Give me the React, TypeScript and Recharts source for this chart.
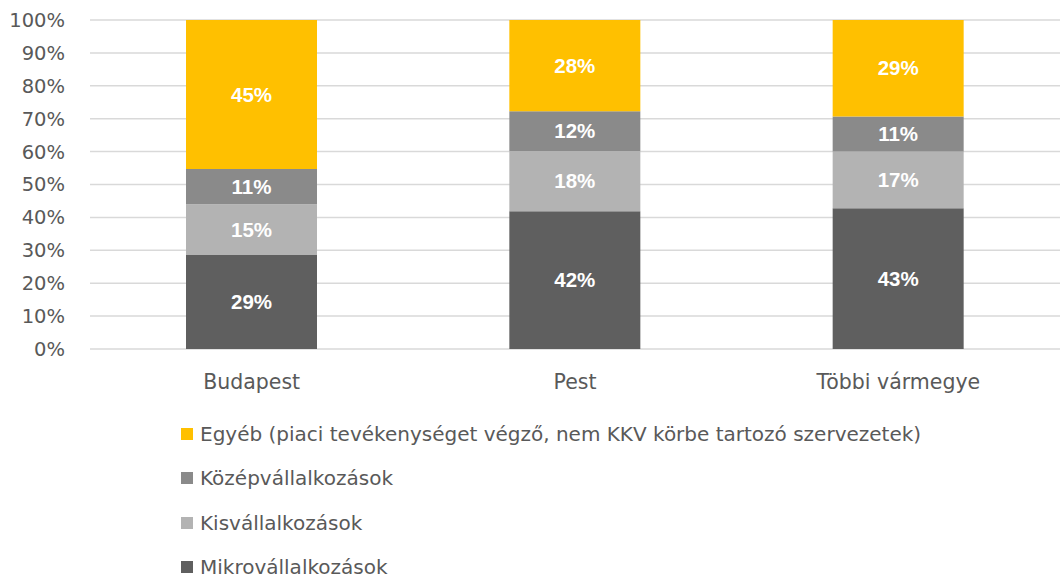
import React from "react";
import { BarChart, Bar, XAxis, YAxis, CartesianGrid, LabelList } from "recharts";

const categories = ["Budapest", "Pest", "Többi vármegye"];
const mikro = [28.6, 41.9, 42.8];
const kis = [15.4, 18.3, 17.2];
const kozep = [10.7, 12.1, 10.7];
const egyeb = [45.3, 27.7, 29.3];
const yTicks = [0, 10, 20, 30, 40, 50, 60, 70, 80, 90, 100];

const seriesNames = {
  egyeb: "Egyéb (piaci tevékenységet végző, nem KKV körbe tartozó szervezetek)",
  kozep: "Középvállalkozások",
  kis: "Kisvállalkozások",
  mikro: "Mikrovállalkozások",
};
const colors = { egyeb: "#FFC000", kozep: "#8A8A8A", kis: "#B3B3B3", mikro: "#5F5F5F" };

const data = categories.map((c, i) => ({
  name: c,
  mikro: mikro[i],
  kis: kis[i],
  kozep: kozep[i],
  egyeb: egyeb[i],
}));

const FONT = "'DejaVu Sans', sans-serif";
const fmt = (v: any) => `${Math.round(Number(v))}%`;
const labelStyle = { fill: "#FFFFFF", fontWeight: 700, fontSize: 20.5, fontFamily: "Arial, 'Liberation Sans', sans-serif" };

const legendOrder: (keyof typeof colors)[] = ["egyeb", "kozep", "kis", "mikro"];

export default function App() {
  return (
    <div style={{ position: "absolute", left: 0, top: 0, width: 1060, height: 578, background: "#fff", overflow: "hidden" }}>
      <BarChart
        width={1060}
        height={578}
        data={data}
        margin={{ top: 20, right: 0, left: 1, bottom: 189 }}
      >
        <CartesianGrid vertical={false} stroke="#D9D9D9" strokeWidth={1.5} />
        <XAxis
          dataKey="name"
          height={40}
          axisLine={false}
          tickLine={false}
          tickMargin={19}
          tick={{ fill: "#595959", fontSize: 20.5, fontFamily: FONT }}
        />
        <YAxis
          width={89}
          domain={[0, 100]}
          ticks={yTicks}
          interval={0}
          axisLine={false}
          tickLine={false}
          tickSize={0}
          tickMargin={25}
          tickFormatter={(v: number) => `${v}%`}
          tick={{ fill: "#595959", fontSize: 19.5, fontFamily: FONT }}
        />
        <Bar dataKey="mikro" stackId="a" fill={colors.mikro} barSize={131} isAnimationActive={false}>
          <LabelList dataKey="mikro" position="center" formatter={fmt} style={labelStyle} />
        </Bar>
        <Bar dataKey="kis" stackId="a" fill={colors.kis} barSize={131} isAnimationActive={false}>
          <LabelList dataKey="kis" position="center" formatter={fmt} style={labelStyle} />
        </Bar>
        <Bar dataKey="kozep" stackId="a" fill={colors.kozep} barSize={131} isAnimationActive={false}>
          <LabelList dataKey="kozep" position="center" formatter={fmt} style={labelStyle} />
        </Bar>
        <Bar dataKey="egyeb" stackId="a" fill={colors.egyeb} barSize={131} isAnimationActive={false}>
          <LabelList dataKey="egyeb" position="center" formatter={fmt} style={labelStyle} />
        </Bar>
      </BarChart>
      {legendOrder.map((k, i) => (
        <div
          key={k}
          style={{
            position: "absolute",
            left: 181,
            top: 424 + i * 44.3,
            height: 20,
            lineHeight: "20px",
            display: "flex",
            alignItems: "center",
            whiteSpace: "nowrap",
            fontFamily: FONT,
            fontSize: 20,
            color: "#595959",
          }}
        >
          <span style={{ display: "inline-block", width: 12, height: 12, background: colors[k], marginRight: 7 }} />
          <span>{seriesNames[k]}</span>
        </div>
      ))}
    </div>
  );
}
